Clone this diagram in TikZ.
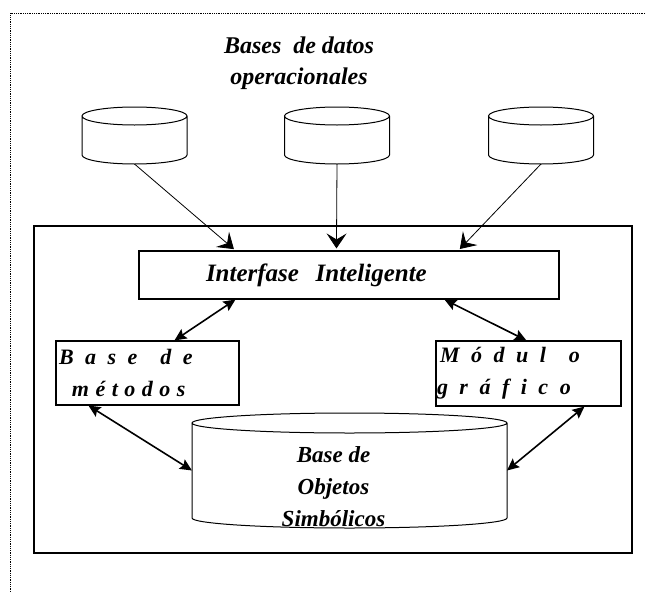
\documentclass[tikz,border=0pt]{standalone}
\usepackage{fontspec}
\setmainfont{Liberation Serif}
\usetikzlibrary{arrows.meta}
\newcommand{\hueco}{\hskip11.5pt\relax}
\newcommand{\huequito}{\hskip6.5pt\relax}
\newcommand{\cilindro}[3]{%
  \draw[line width=1pt] ([yshift=-#3]#1.north) ellipse [x radius=#2, y radius=#3]
    ([yshift=-#3]#1.north west) -- ([yshift=#3]#1.south west)
    arc [start angle=180, end angle=360, x radius=#2, y radius=#3]
    -- ([yshift=-#3]#1.north east);}

\begin{document}
\begin{tikzpicture}[x=1pt, y=-1pt, >={Stealth[length=15pt, width=20pt, inset=6pt]},
  every node/.style={font=\bfseries\itshape},
  caja/.style={draw, line width=1.1pt, inner xsep=3pt, inner ysep=0pt, align=left, font=\fontsize{22}{32}\selectfont\bfseries\itshape},
  bd/.style={inner sep=0pt, outer sep=0pt},
  flujo/.style={->, line width=0.8pt, shorten >=2pt},
  enlace/.style={{Stealth[length=12pt, width=11pt, inset=2pt]}-{Stealth[length=12pt, width=11pt, inset=2pt]}, line width=1.6pt}]
	\useasboundingbox (0,0) rectangle (646,592);
	\draw[densely dotted, line width=0.8pt] (10,592) -- (10,13) -- (646,13);
	\node[align=center, font=\fontsize{24}{31}\selectfont\bfseries\itshape] (titulo) at (299,63) {Bases\ \ de datos\\operacionales};
	\node[bd, minimum width=105pt, minimum height=57pt] (bd1) at (134.5,135.5) {};
	\node[bd, minimum width=105pt, minimum height=57pt] (bd2) at (337,135.5) {};
	\node[bd, minimum width=105pt, minimum height=57pt] (bd3) at (541,135.5) {};
	\cilindro{bd1}{52.5pt}{9pt}
	\cilindro{bd2}{52.5pt}{9pt}
	\cilindro{bd3}{52.5pt}{9pt}
	\draw[line width=1.1pt] (34,226) rectangle (632,553);
	\node[caja, text width=414pt, minimum height=48pt, font=\fontsize{25}{30}\selectfont\bfseries\itshape] (interfase) at (349,275) {\hspace*{64pt}Interfase\ \ Inteligente};
	\node[caja, text width=177pt, minimum height=64pt] (metodos) at (147.5,373) {B\hueco a\hueco s\hueco e\hueco\hueco d\hueco e\par\hspace*{13pt}m\huequito é\huequito t\huequito o\huequito d\huequito o\huequito s};
	\node[caja, text width=177pt, minimum height=65pt, inner xsep=4pt] (modulo) at (528.5,373.5) {M\hueco ó\hueco d\hueco u\hueco l\hueco\hueco o\par\hspace*{-3pt}g\hueco r\hueco á\hueco f\hueco i\hueco c\hueco o};
	\node[bd, minimum width=315pt, minimum height=115pt, label={[xshift=-16pt, yshift=-16pt, align=center, font=\fontsize{23}{32}\selectfont\bfseries\itshape]center:Base de\\Objetos\\Simbólicos}] (objetos) at (349.5,470.5) {};
	\cilindro{objetos}{157.5pt}{10pt}
	\draw[flujo] (bd1.south) -- ([xshift=97pt]interfase.north west);
	\draw[flujo] (bd2.south) -- ([xshift=198pt]interfase.north west);
	\draw[flujo] (bd3.south) -- ([xshift=320pt]interfase.north west);
	\draw[enlace] ([xshift=97pt]interfase.south west) -- ([xshift=119pt]metodos.north west);
	\draw[enlace] ([xshift=306pt]interfase.south west) -- ([xshift=91pt]modulo.north west);
	\draw[enlace] ([xshift=33pt]metodos.south west) -- (objetos.west);
	\draw[enlace] ([xshift=149pt]modulo.south west) -- (objetos.east);
\end{tikzpicture}
\end{document}
